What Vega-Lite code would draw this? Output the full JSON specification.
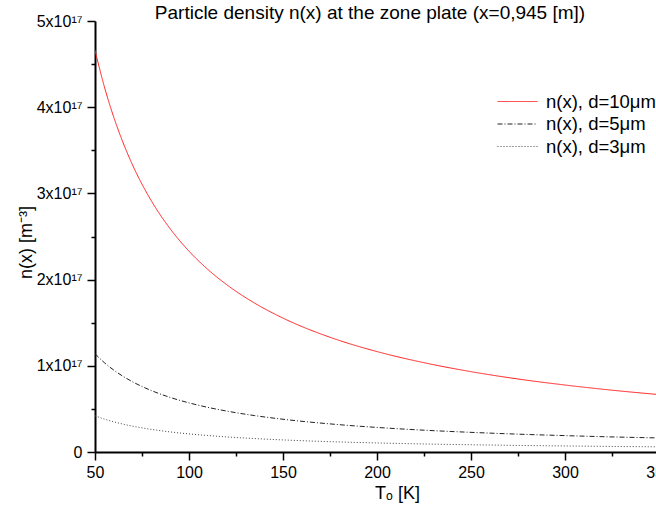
{
  "$schema": "https://vega.github.io/schema/vega-lite/v6.json",
  "autosize": {"type": "none"},
  "padding": {"left": 95, "top": 21, "right": -3, "bottom": 60},
  "width": 564,
  "height": 431,
  "background": "white",
  "config": {
    "font": "Liberation Sans",
    "view": {"stroke": null},
    "axis": {"grid": false, "domainColor": "black", "tickColor": "black", "labelColor": "black", "titleColor": "black", "labelFont": "Liberation Sans", "titleFont": "Liberation Sans", "titleFontWeight": "normal"}
  },
  "title": {"text": "Particle density n(x) at the zone plate (x=0,945 [m])", "fontSize": 19, "fontWeight": "normal", "font": "Liberation Sans", "color": "black", "offset": 3, "anchor": "middle", "dx": -7, "dy": 13},
  "data": {"values": [
    {"T": 50, "n": 4.66e17, "s": "n(x), d=10μm"},
    {"T": 55, "n": 4.236e17, "s": "n(x), d=10μm"},
    {"T": 60, "n": 3.883e17, "s": "n(x), d=10μm"},
    {"T": 65, "n": 3.585e17, "s": "n(x), d=10μm"},
    {"T": 70, "n": 3.329e17, "s": "n(x), d=10μm"},
    {"T": 80, "n": 2.913e17, "s": "n(x), d=10μm"},
    {"T": 90, "n": 2.589e17, "s": "n(x), d=10μm"},
    {"T": 100, "n": 2.33e17, "s": "n(x), d=10μm"},
    {"T": 110, "n": 2.118e17, "s": "n(x), d=10μm"},
    {"T": 120, "n": 1.942e17, "s": "n(x), d=10μm"},
    {"T": 135, "n": 1.726e17, "s": "n(x), d=10μm"},
    {"T": 150, "n": 1.553e17, "s": "n(x), d=10μm"},
    {"T": 175, "n": 1.331e17, "s": "n(x), d=10μm"},
    {"T": 200, "n": 1.165e17, "s": "n(x), d=10μm"},
    {"T": 225, "n": 1.036e17, "s": "n(x), d=10μm"},
    {"T": 250, "n": 0.932e17, "s": "n(x), d=10μm"},
    {"T": 275, "n": 0.847e17, "s": "n(x), d=10μm"},
    {"T": 300, "n": 0.777e17, "s": "n(x), d=10μm"},
    {"T": 325, "n": 0.717e17, "s": "n(x), d=10μm"},
    {"T": 350, "n": 0.666e17, "s": "n(x), d=10μm"},
    {"T": 50, "n": 1.14e17, "s": "n(x), d=5μm"},
    {"T": 55, "n": 1.036e17, "s": "n(x), d=5μm"},
    {"T": 60, "n": 0.95e17, "s": "n(x), d=5μm"},
    {"T": 65, "n": 0.877e17, "s": "n(x), d=5μm"},
    {"T": 70, "n": 0.814e17, "s": "n(x), d=5μm"},
    {"T": 80, "n": 0.7125e17, "s": "n(x), d=5μm"},
    {"T": 90, "n": 0.633e17, "s": "n(x), d=5μm"},
    {"T": 100, "n": 0.57e17, "s": "n(x), d=5μm"},
    {"T": 110, "n": 0.518e17, "s": "n(x), d=5μm"},
    {"T": 120, "n": 0.475e17, "s": "n(x), d=5μm"},
    {"T": 135, "n": 0.422e17, "s": "n(x), d=5μm"},
    {"T": 150, "n": 0.38e17, "s": "n(x), d=5μm"},
    {"T": 175, "n": 0.326e17, "s": "n(x), d=5μm"},
    {"T": 200, "n": 0.285e17, "s": "n(x), d=5μm"},
    {"T": 225, "n": 0.253e17, "s": "n(x), d=5μm"},
    {"T": 250, "n": 0.228e17, "s": "n(x), d=5μm"},
    {"T": 275, "n": 0.207e17, "s": "n(x), d=5μm"},
    {"T": 300, "n": 0.19e17, "s": "n(x), d=5μm"},
    {"T": 325, "n": 0.175e17, "s": "n(x), d=5μm"},
    {"T": 350, "n": 0.163e17, "s": "n(x), d=5μm"},
    {"T": 50, "n": 0.42e17, "s": "n(x), d=3μm"},
    {"T": 55, "n": 0.382e17, "s": "n(x), d=3μm"},
    {"T": 60, "n": 0.35e17, "s": "n(x), d=3μm"},
    {"T": 65, "n": 0.323e17, "s": "n(x), d=3μm"},
    {"T": 70, "n": 0.3e17, "s": "n(x), d=3μm"},
    {"T": 80, "n": 0.2625e17, "s": "n(x), d=3μm"},
    {"T": 90, "n": 0.233e17, "s": "n(x), d=3μm"},
    {"T": 100, "n": 0.21e17, "s": "n(x), d=3μm"},
    {"T": 110, "n": 0.191e17, "s": "n(x), d=3μm"},
    {"T": 120, "n": 0.175e17, "s": "n(x), d=3μm"},
    {"T": 135, "n": 0.156e17, "s": "n(x), d=3μm"},
    {"T": 150, "n": 0.14e17, "s": "n(x), d=3μm"},
    {"T": 175, "n": 0.12e17, "s": "n(x), d=3μm"},
    {"T": 200, "n": 0.105e17, "s": "n(x), d=3μm"},
    {"T": 225, "n": 0.0933e17, "s": "n(x), d=3μm"},
    {"T": 250, "n": 0.084e17, "s": "n(x), d=3μm"},
    {"T": 275, "n": 0.0764e17, "s": "n(x), d=3μm"},
    {"T": 300, "n": 0.07e17, "s": "n(x), d=3μm"},
    {"T": 325, "n": 0.0646e17, "s": "n(x), d=3μm"},
    {"T": 350, "n": 0.06e17, "s": "n(x), d=3μm"}
  ]},
  "resolve": {"axis": {"x": "independent", "y": "independent"}},
  "layer": [
    {
      "mark": {"type": "line", "strokeWidth": 1, "interpolate": "monotone", "clip": true},
      "encoding": {
        "x": {"field": "T", "type": "quantitative", "scale": {"domain": [50, 350], "nice": false, "zero": false},
          "axis": {"orient": "bottom", "values": [50, 100, 150, 200, 250, 300, 350], "tickSize": 8, "tickWidth": 1.5, "domainWidth": 2, "labelFontSize": 16, "labelPadding": 4, "labelFlush": false, "title": "Tₒ [K]", "titleFontSize": 18, "titleX": 302, "titleY": 46, "titleAnchor": "middle", "titleAlign": "center", "titleBaseline": "alphabetic"}},
        "y": {"field": "n", "type": "quantitative", "scale": {"domain": [0, 5e17], "nice": false},
          "axis": {"orient": "left", "values": [0, 1e17, 2e17, 3e17, 4e17, 5e17], "tickSize": 8, "tickWidth": 1.5, "domainWidth": 2, "labelFontSize": 16, "labelPadding": 5, "labelExpr": "datum.value == 0 ? '0' : format(datum.value / 1e17, 'd') + 'x10¹⁷'", "title": "n(x) [m⁻³]", "titleFontSize": 18, "titleX": -64, "titleY": 221, "titleAngle": -90, "titleAlign": "center", "titleBaseline": "alphabetic"}},
        "color": {"field": "s", "type": "nominal", "scale": {"domain": ["n(x), d=10μm", "n(x), d=5μm", "n(x), d=3μm"], "range": ["#ff2020", "#222222", "#444444"]},
          "legend": {"title": null, "orient": "none", "legendX": 412, "legendY": 70, "symbolType": "M-2,0H2", "symbolSize": 400, "symbolStrokeWidth": 1, "labelFontSize": 18.5, "labelColor": "black", "rowPadding": 2.5, "labelOffset": 18}},
        "strokeDash": {"field": "s", "type": "nominal", "scale": {"domain": ["n(x), d=10μm", "n(x), d=5μm", "n(x), d=3μm"], "range": [[1, 0], [5, 2, 1, 2], [1, 2]]}, "legend": {"title": null, "orient": "none", "legendX": 412, "legendY": 70, "symbolType": "M-2,0H2", "symbolSize": 400, "symbolStrokeWidth": 1, "labelFontSize": 18.5, "labelColor": "black", "rowPadding": 2.5, "labelOffset": 18}}
      }
    },
    {
      "mark": {"type": "point", "opacity": 0},
      "encoding": {
        "x": {"field": "T", "type": "quantitative", "scale": {"domain": [50, 350], "nice": false, "zero": false},
          "axis": {"orient": "bottom", "values": [75, 125, 175, 225, 275, 325], "tickSize": 4, "tickWidth": 1.5, "domain": false, "labels": false, "title": null}},
        "y": {"field": "n", "type": "quantitative", "scale": {"domain": [0, 5e17], "nice": false},
          "axis": {"orient": "left", "values": [0.5e17, 1.5e17, 2.5e17, 3.5e17, 4.5e17], "tickSize": 4, "tickWidth": 1.5, "domain": false, "labels": false, "title": null}}
      }
    }
  ]
}
